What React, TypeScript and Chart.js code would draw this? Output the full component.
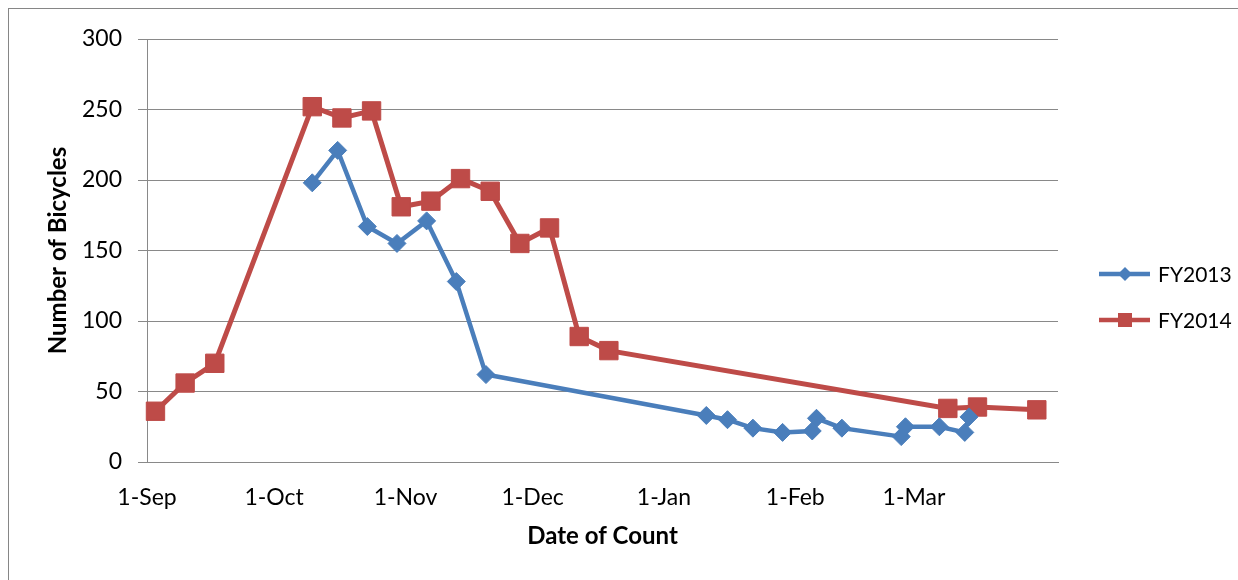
import React, { useEffect, useRef } from "react";
import { Chart, registerables } from "chart.js";

Chart.register(...registerables);

// ---- data (dates as MM-DD, season runs Sep -> Apr) ----
const tickDates = ["09-01", "10-01", "11-01", "12-01", "01-01", "02-01", "03-01"];
const tickLabels = ["1-Sep", "1-Oct", "1-Nov", "1-Dec", "1-Jan", "1-Feb", "1-Mar"];
const axisStart = "09-01";
const axisEnd = "04-04";

const fy2013Dates = [
  "10-10", "10-16", "10-23", "10-30", "11-06", "11-13", "11-20",
  "01-11", "01-16", "01-22", "01-29", "02-05", "02-06", "02-12",
  "02-26", "02-27", "03-07", "03-13", "03-14",
];
const fy2013Values = [
  198, 221, 167, 155, 171, 128, 62,
  33, 30, 24, 21, 22, 31, 24,
  18, 25, 25, 21, 32,
];

const fy2014Dates = [
  "09-03", "09-10", "09-17", "10-10", "10-17", "10-24", "10-31",
  "11-07", "11-14", "11-21", "11-28", "12-05", "12-12", "12-19",
  "03-09", "03-16", "03-30",
];
const fy2014Values = [
  36, 56, 70, 252, 244, 249, 181,
  185, 201, 192, 155, 166, 89, 79,
  38, 39, 37,
];

const yMin = 0;
const yMax = 300;
const yStep = 50;

const dayOf = (md: string) => {
  const [m, d] = md.split("-").map(Number);
  const y = m >= 9 ? 2013 : 2014;
  return Math.round((Date.UTC(y, m - 1, d) - Date.UTC(2013, 8, 1)) / 86400000);
};

const BLUE = "#4A7EBB";
const RED = "#BE4B48";
const GRAY = "#898989";
const FONT = "Lato, 'Open Sans', sans-serif";

export default function App() {
  const ref = useRef<HTMLCanvasElement>(null);

  useEffect(() => {
    const canvas = ref.current;
    if (!canvas) return;

    const legendPlugin = {
      id: "customLegend",
      afterDraw(chart: any) {
        const ctx = chart.ctx as CanvasRenderingContext2D;
        const items = [
          { label: "FY2013", color: BLUE, style: "diamond", y: 265 },
          { label: "FY2014", color: RED, style: "square", y: 311 },
        ];
        ctx.save();
        for (const it of items) {
          ctx.strokeStyle = it.color;
          ctx.fillStyle = it.color;
          ctx.lineWidth = 4.5;
          ctx.beginPath();
          ctx.moveTo(1090, it.y);
          ctx.lineTo(1141, it.y);
          ctx.stroke();
          const cx = 1116;
          ctx.beginPath();
          if (it.style === "diamond") {
            const r = 7;
            ctx.moveTo(cx, it.y - r);
            ctx.lineTo(cx + r, it.y);
            ctx.lineTo(cx, it.y + r);
            ctx.lineTo(cx - r, it.y);
            ctx.closePath();
          } else {
            const s = 7;
            ctx.rect(cx - s, it.y - s, 2 * s, 2 * s);
          }
          ctx.fill();
          ctx.fillStyle = "#000";
          ctx.font = `21px ${FONT}`;
          ctx.textAlign = "left";
          ctx.textBaseline = "middle";
          ctx.fillText(it.label, 1149, it.y + 1);
        }
        ctx.restore();
      },
    };

    const chart = new Chart(canvas, {
      type: "line",
      data: {
        datasets: [
          {
            label: "FY2013",
            data: fy2013Dates.map((d, i) => ({ x: dayOf(d), y: fy2013Values[i] })),
            borderColor: BLUE,
            backgroundColor: BLUE,
            borderWidth: 4.5,
            pointStyle: "rectRot",
            pointRadius: 9,
            pointBorderWidth: 1,
            pointBorderColor: BLUE,
            pointBackgroundColor: BLUE,
            tension: 0,
            clip: false as any,
          },
          {
            label: "FY2014",
            data: fy2014Dates.map((d, i) => ({ x: dayOf(d), y: fy2014Values[i] })),
            borderColor: RED,
            backgroundColor: RED,
            borderWidth: 5,
            pointStyle: "rect",
            pointRadius: 13,
            pointBorderWidth: 1,
            pointBorderColor: RED,
            pointBackgroundColor: RED,
            tension: 0,
            clip: false as any,
          },
        ],
      },
      options: {
        responsive: false,
        animation: false,
        layout: { padding: { left: 0, top: 30, right: 180, bottom: 0 } },
        plugins: {
          legend: { display: false },
          tooltip: { enabled: false },
        },
        scales: {
          x: {
            type: "linear",
            min: dayOf(axisStart),
            max: dayOf(axisEnd),
            afterFit(s: any) {
              s.height = 118;
            },
            afterBuildTicks(s: any) {
              s.ticks = tickDates.map((d) => ({ value: dayOf(d) }));
            },
            ticks: {
              autoSkip: false,
              maxRotation: 0,
              padding: 22,
              color: "#000",
              font: { family: FONT, size: 23 },
              callback: (v: any) => {
                const idx = tickDates.findIndex((d) => dayOf(d) === v);
                return idx >= 0 ? tickLabels[idx] : "";
              },
            },
            grid: { display: true, drawOnChartArea: false, drawTicks: false },
            border: { display: true, color: GRAY, width: 1 },
            title: {
              display: true,
              text: "Date of Count",
              color: "#000",
              font: { family: FONT, size: 24, weight: "bold" },
              padding: { top: 0, bottom: 29 },
            },
          },
          y: {
            min: yMin,
            max: yMax,
            afterFit(s: any) {
              s.width = 138;
            },
            ticks: {
              stepSize: yStep,
              padding: 16,
              color: "#000",
              font: { family: FONT, size: 23 },
            },
            grid: { color: GRAY, lineWidth: 1, tickLength: 9, drawTicks: true },
            border: { display: true, color: GRAY, width: 1 },
            title: {
              display: true,
              text: "Number of Bicycles",
              color: "#000",
              font: { family: FONT, size: 24, weight: "bold" },
              padding: { top: 35, bottom: 0 },
            },
          },
        },
      },
      plugins: [legendPlugin],
    });

    return () => chart.destroy();
  }, []);

  return (
    <div
      style={{
        position: "fixed",
        left: 8,
        top: 8,
        width: 1230,
        height: 572,
        borderLeft: "1px solid #868686",
        borderTop: "1px solid #868686",
        boxSizing: "border-box",
        background: "#fff",
      }}
    >
      <canvas ref={ref} width={1229} height={571} style={{ display: "block" }} />
    </div>
  );
}
